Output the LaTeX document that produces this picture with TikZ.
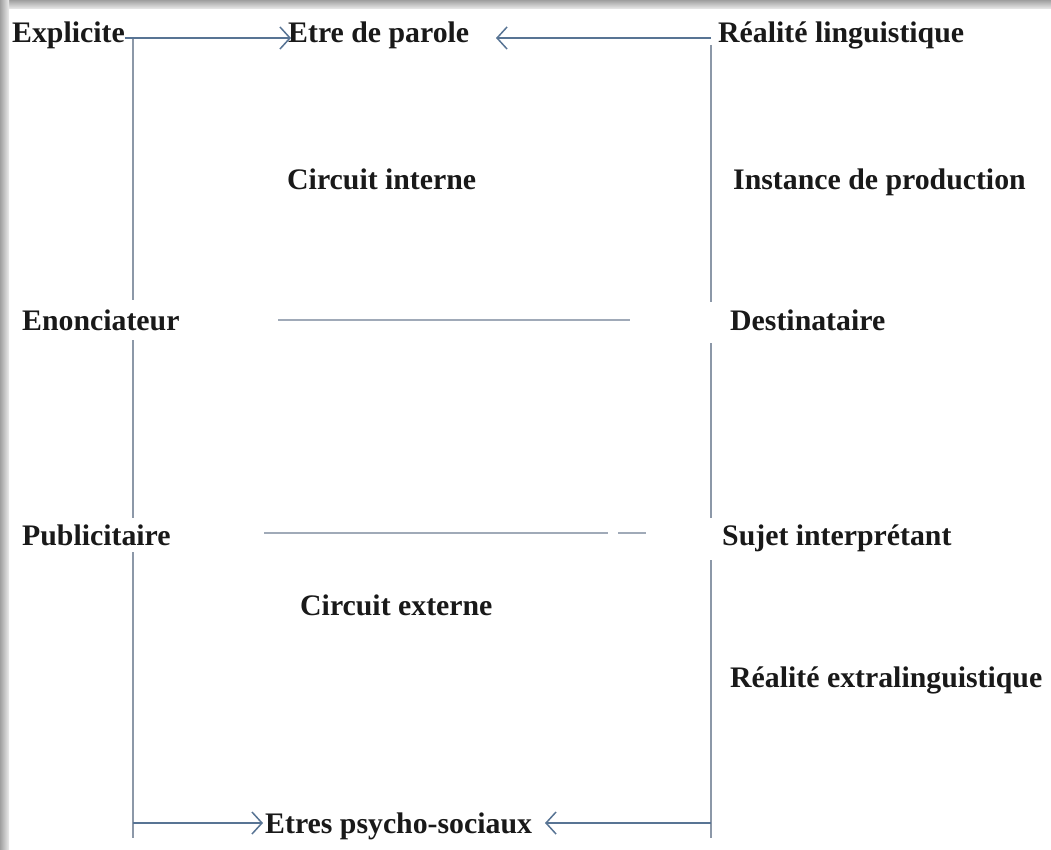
\documentclass[tikz,border=0pt]{standalone}
\usepackage{fontspec}
\setmainfont{Liberation Serif}
\usetikzlibrary{arrows.meta}
\definecolor{frameline}{RGB}{140,152,168}
\definecolor{arrline}{RGB}{88,116,148}
\definecolor{midline}{RGB}{160,170,184}
\definecolor{txt}{RGB}{25,25,25}
\tikzset{
  lbl/.style={anchor=base west, inner sep=0pt, text=txt, font=\fontsize{29.8}{35}\selectfont\bfseries},
  vline/.style={draw=frameline, line width=1.4pt},
  hline/.style={draw=midline, line width=1.6pt},
  arr/.style={draw=arrline, line width=1.3pt, -{Straight Barb[length=10pt,width=22pt,line width=1.5pt]}},
  plain/.style={draw=arrline, line width=1.3pt}
}
\begin{document}
\begin{tikzpicture}[x=1pt,y=-1pt]
\useasboundingbox (0,0) rectangle (1051,850);
\fill[white] (0,0) rectangle (1051,850);
% shadow frame top and left
\shade[top color=gray!75, bottom color=gray!15] (0,0) rectangle (1051,9);
\shade[left color=gray!75, right color=gray!15] (0,0) rectangle (9,850);

% labels
\node[lbl] (expl) at (12,43) {Explicite};
\node[lbl] (etre) at (288,43) {Etre de parole};
\node[lbl] (real) at (718,43) {Réalité linguistique};
\node[lbl] (cint) at (287,190) {Circuit interne};
\node[lbl] (inst) at (733,190) {Instance de production};
\node[lbl] (enon) at (22,330) {Enonciateur};
\node[lbl] (dest) at (730,330) {Destinataire};
\node[lbl] (publ) at (22,545) {Publicitaire};
\node[lbl] (suje) at (722,545) {Sujet interprétant};
\node[lbl] (cext) at (300,615) {Circuit externe};
\node[lbl] (rext) at (730,687) {Réalité extralinguistique};
\node[lbl] (psy) at (265,833) {Etres psycho-sociaux};

% frame coordinates
\coordinate (tl) at (133,38);
\coordinate (tr) at (711,38);
\coordinate (L1) at (133,300);
\coordinate (L2) at (133,340);
\coordinate (L3) at (133,518);
\coordinate (L4) at (133,552);
\coordinate (bl) at (133,823);
\coordinate (Lend) at (133,838);
\coordinate (R0) at (711,45);
\coordinate (R1) at (711,302);
\coordinate (R2) at (711,343);
\coordinate (R3) at (711,518);
\coordinate (R4) at (711,560);
\coordinate (br) at (711,823);
\coordinate (Rend) at (711,838);
\coordinate (ta) at (291,38);
\coordinate (tb) at (496,38);
\coordinate (ba) at (263,823);
\coordinate (bb) at (545,823);

% left vertical line with gaps
\draw[vline] (tl) -- (L1);
\draw[vline] (L2) -- (L3);
\draw[vline] (L4) -- (Lend);
% right vertical line with gaps
\draw[vline] (R0) -- (R1);
\draw[vline] (R2) -- (R3);
\draw[vline] (R4) -- (Rend);

% top arrows
\draw[plain] (expl.east |- tl) -- (tl);
\draw[arr] (tl) -- (ta);
\draw[arr] (tr) -- (tb);
% bottom arrows
\draw[arr] (bl) -- (ba);
\draw[arr] (br) -- (bb);

% middle lines
\coordinate (m1a) at (278,320);
\coordinate (m1b) at (630,320);
\coordinate (m2a) at (264,533);
\coordinate (m2b) at (608,533);
\coordinate (m2c) at (618,533);
\coordinate (m2d) at (646,533);
\draw[hline] (m1a) -- (m1b);
\draw[hline] (m2a) -- (m2b);
\draw[hline] (m2c) -- (m2d);
\end{tikzpicture}
\end{document}
